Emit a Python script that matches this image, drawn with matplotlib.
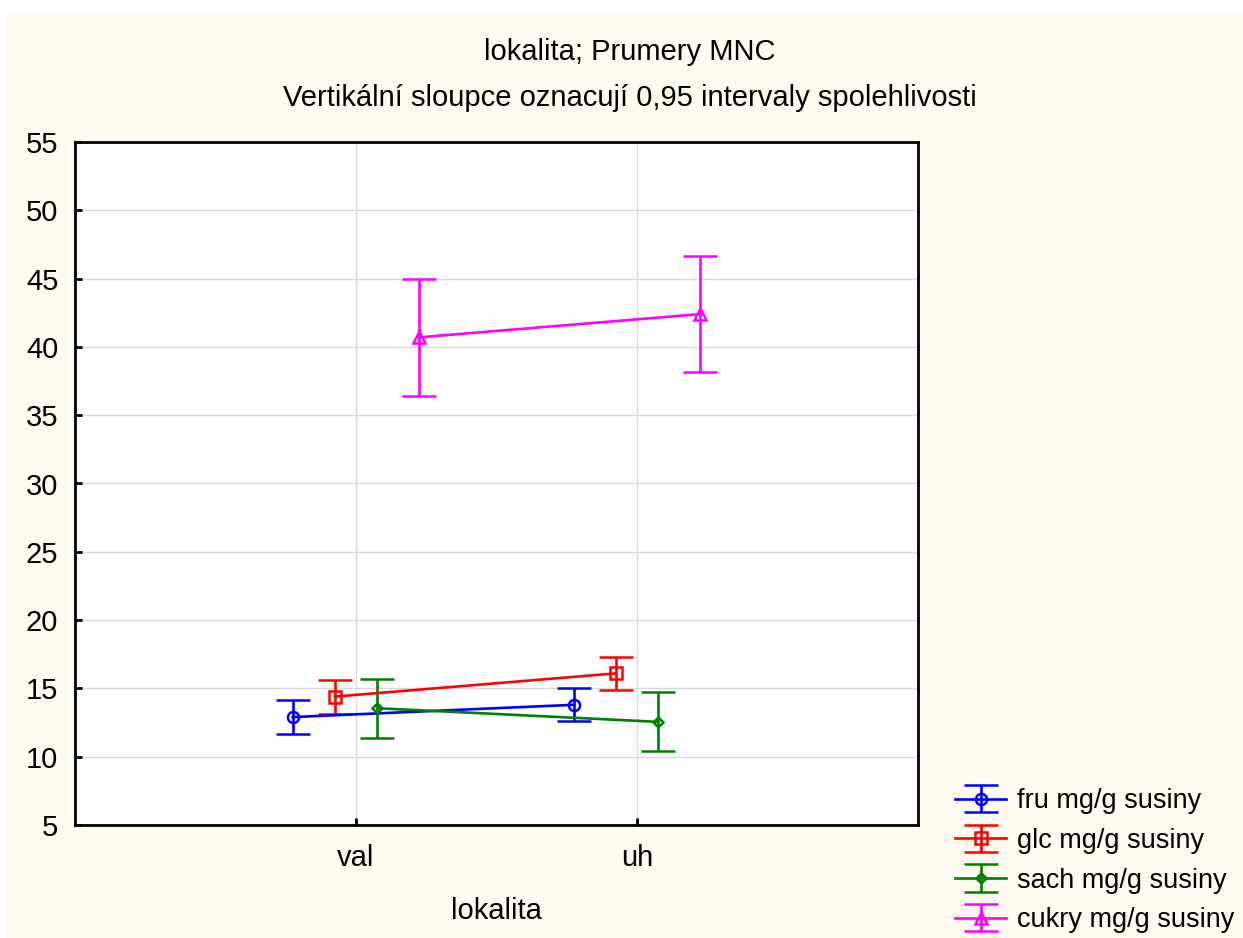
import numpy as np
import matplotlib.pyplot as plt
from matplotlib.patches import Rectangle

plt.rcParams['font.family'] = ['Liberation Sans', 'DejaVu Sans']

categories = ['val', 'uh']
series = ['fru mg/g susiny', 'glc mg/g susiny', 'sach mg/g susiny', 'cukry mg/g susiny']
means = [
    [12.9, 13.8],
    [14.4, 16.1],
    [13.55, 12.55],
    [40.7, 42.4],
]
ci_low = [
    [11.65, 12.65],
    [13.15, 14.9],
    [11.4, 10.45],
    [36.4, 38.15],
]
ci_high = [
    [14.15, 15.05],
    [15.6, 17.3],
    [15.7, 14.7],
    [44.95, 46.65],
]
colors = ['#0000ff', '#ff0000', '#008000', '#ff00ff']
markers = ['o', 's', 'D', '^']
msizes = [8, 8, 5, 8]
offsets = [-0.225, -0.075, 0.075, 0.225]

fig = plt.figure(figsize=(12.43, 9.38), dpi=100)
fig.patch.set_facecolor('white')
fig.patches.append(Rectangle((7 / 1243, 0), 1, 1 - 15 / 938, transform=fig.transFigure,
                             facecolor='#fefaf0', edgecolor='none', zorder=-10))

ax = fig.add_axes([75 / 1243, 113 / 938, 843 / 1243, 683 / 938])
ax.set_facecolor('white')

x = np.arange(len(categories))
for i, name in enumerate(series):
    m = np.array(means[i])
    lo = m - np.array(ci_low[i])
    hi = np.array(ci_high[i]) - m
    ax.errorbar(x + offsets[i], m, yerr=[lo, hi], color=colors[i], marker=markers[i],
                markersize=msizes[i], markerfacecolor='none', markeredgewidth=1.8,
                linewidth=1.9, elinewidth=1.9, capsize=12, capthick=1.9, label=name)

ax.set_xlim(-1, 2)
ax.set_ylim(5, 55)
ax.set_yticks(np.arange(5, 56, 5))
ax.set_xticks(x)
ax.set_xticklabels(categories)
ax.grid(True, color='#d9d9d9', linewidth=1)
ax.set_axisbelow(True)
for s in ax.spines.values():
    s.set_linewidth(2)
    s.set_color('black')
ax.tick_params(axis='both', direction='in', length=5, width=2, labelsize=21)
ax.tick_params(axis='y', pad=12)
ax.tick_params(axis='x', pad=14)
ax.set_xlabel('lokalita', fontsize=21, labelpad=18)

fig.text(630 / 1243, 1 - 52 / 938, 'lokalita; Prumery MNC',
         ha='center', va='center', fontsize=21)
fig.text(630 / 1243, 1 - 98 / 938,
         'Vertikální sloupce oznacují 0,95 intervaly spolehlivosti',
         ha='center', va='center', fontsize=21)

fig.legend(loc='lower left', bbox_to_anchor=(936 / 1243, -14 / 938), frameon=False,
           fontsize=19.5, handlelength=1.9, labelspacing=0.5, handletextpad=0.4,
           borderaxespad=0.3)

fig.savefig('out.png', dpi=100)
